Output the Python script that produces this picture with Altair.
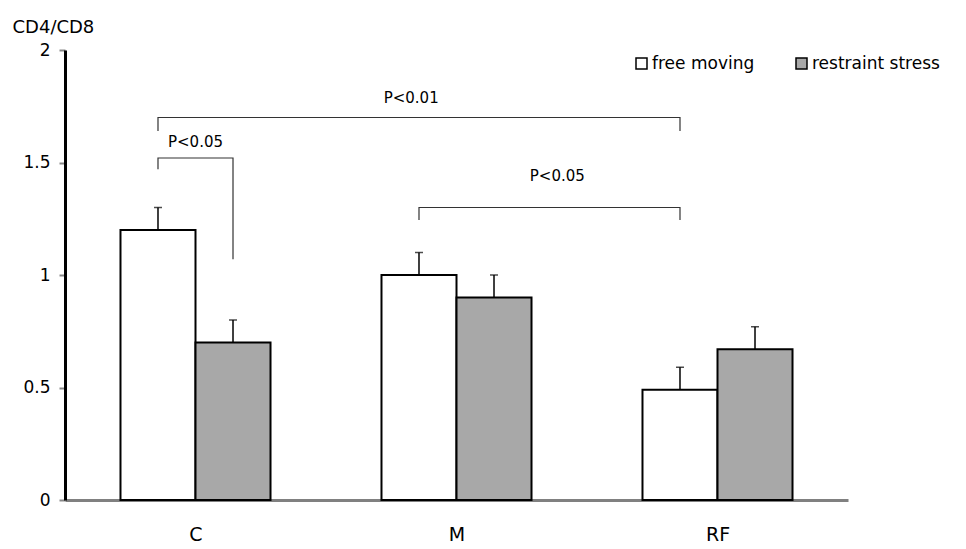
import altair as alt
import pandas as pd

# ---- data ----
groups = ["C", "M", "RF"]
series = ["free moving", "restraint stress"]
free_vals = [1.20, 1.00, 0.49]
free_err = [0.10, 0.10, 0.10]
restraint_vals = [0.70, 0.90, 0.67]
restraint_err = [0.10, 0.10, 0.10]

# significance brackets
br_left_group = ["C", "C", "M"]
br_left_series = ["free moving", "free moving", "free moving"]
br_right_group = ["RF", "C", "RF"]
br_right_series = ["free moving", "restraint stress", "free moving"]
br_level = [1.70, 1.52, 1.30]
br_left_end = [1.64, 1.47, 1.245]
br_right_end = [1.64, 1.07, 1.245]
br_label = ["P<0.01", "P<0.05", "P<0.05"]
br_label_level = [1.785, 1.59, 1.44]
br_label_shift = [-0.03, 0.0, 0.03]   # label offset from bracket middle (group units)

# ---- layout helpers (positions in group units) ----
HALF = 0.1437          # half bar width in group units
def xpos(g, s):
    i = groups.index(g)
    return i + 0.5 + (-HALF if s == series[0] else HALF)

rows = []
for g, v, e in zip(groups, free_vals, free_err):
    rows.append(dict(group=g, series=series[0], value=v, err=v + e))
for g, v, e in zip(groups, restraint_vals, restraint_err):
    rows.append(dict(group=g, series=series[1], value=v, err=v + e))
bars = pd.DataFrame(rows)
bars["xc"] = [xpos(g, s) for g, s in zip(bars.group, bars.series)]
bars["x0"] = bars.xc - HALF
bars["x1"] = bars.xc + HALF
bars["zero"] = 0.0

pts = []
labels = []
for k in range(len(br_label)):
    xl = xpos(br_left_group[k], br_left_series[k])
    xr = xpos(br_right_group[k], br_right_series[k])
    path = [(xl, br_left_end[k]), (xl, br_level[k]), (xr, br_level[k]), (xr, br_right_end[k])]
    for j, (px, py) in enumerate(path):
        pts.append(dict(id=k, o=j, x=px, y=py))
    labels.append(dict(x=(xl + xr) / 2 + br_label_shift[k], y=br_label_level[k], text=br_label[k]))
bracket_df = pd.DataFrame(pts)
label_df = pd.DataFrame(labels)

FONT = "DejaVu Sans"
W, H = 783, 450

xscale = alt.Scale(domain=[0, 3], nice=False, zero=False)
yscale = alt.Scale(domain=[0, 2], nice=False)

base = alt.Chart(bars)

bar_layer = base.mark_bar(stroke="black", strokeWidth=2).encode(
    x=alt.X("x0:Q", scale=xscale,
            axis=alt.Axis(values=[0.5, 1.5, 2.5],
                          labelExpr="['C','M','RF'][floor(datum.value)]",
                          title=None, ticks=False, grid=False,
                          labelFontSize=19, labelFont=FONT, labelColor="black",
                          labelPadding=25, domainColor="#808080", domainWidth=3)),
    x2="x1:Q",
    y=alt.Y("value:Q", scale=yscale,
            axis=alt.Axis(values=[0, 0.5, 1, 1.5, 2], format="~g", title="CD4/CD8",
                          titleAngle=0, titleAlign="left", titleBaseline="alphabetic",
                          titleX=-53, titleY=-18, titleFontSize=18,
                          titleFontWeight="normal", titleFont=FONT, titleColor="black",
                          labelFontSize=17, labelFont=FONT, labelColor="black",
                          labelPadding=9, tickSize=6, tickWidth=2, tickColor="#888888",
                          domainColor="black", domainWidth=3, grid=False)),
    y2="zero:Q",
    color=alt.Color("series:N", scale=alt.Scale(domain=series, range=["white", "#a8a8a8"]),
                    legend=alt.Legend(title=None, orient="none", direction="horizontal",
                                      legendX=568, legendY=5,
                                      symbolType="square", symbolSize=121,
                                      symbolStrokeColor="black", symbolStrokeWidth=1.5,
                                      labelFontSize=17, labelFont=FONT, labelColor="black",
                                      labelOffset=2, columnPadding=38)),
)

err_line = base.mark_rule(color="black", strokeWidth=1.5).encode(
    x="xc:Q", y="value:Q", y2="err:Q")
err_cap = base.mark_tick(color="black", thickness=1.5, size=8, orient="horizontal").encode(
    x="xc:Q", y="err:Q")

bracket_layer = alt.Chart(bracket_df).mark_line(color="#333333", strokeWidth=1.2).encode(
    x="x:Q", y="y:Q", detail="id:N", order="o:Q")

label_layer = alt.Chart(label_df).mark_text(font=FONT, fontSize=15, color="black").encode(
    x="x:Q", y="y:Q", text="text:N")

chart = alt.layer(bar_layer, err_line, err_cap, bracket_layer, label_layer).properties(
    width=W, height=H,
    autosize=alt.AutoSizeParams(type="none"),
    padding={"left": 57, "top": 42, "right": 110, "bottom": 45},
).configure_view(stroke=None)

chart.save("out.html", embed_options={"renderer": "svg", "actions": False})
